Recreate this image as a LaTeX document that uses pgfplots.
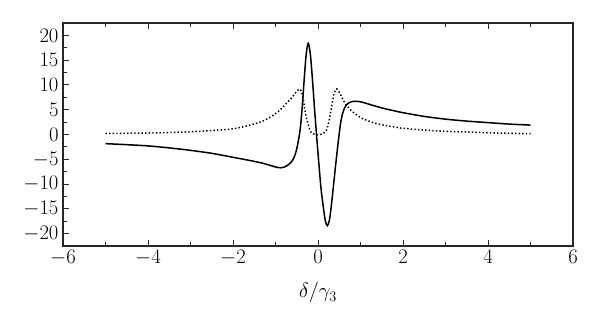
\documentclass[border=0pt]{standalone}
\usepackage{pgfplots}
\pgfplotsset{compat=1.18}
\begin{document}
\begin{tikzpicture}[x=1bp,y=1bp]
\begin{axis}[
  name=ax,
  scale only axis,
  width=510bp, height=223bp,
  xmin=-6, xmax=6, ymin=-22.5, ymax=22.5,
  xtick={-6,-4,...,6}, ytick={-20,-15,...,20},
  minor x tick num=1, minor y tick num=1,
  xtick pos=both, ytick pos=left,
  xticklabel pos=lower,
  tick align=inside,
  major tick length=6bp, minor tick length=4bp,
  axis line style={line width=1.2bp, black!85},
  every tick/.style={line width=0.9bp, black!85},
  tick label style={font=\fontsize{20.5}{22}\selectfont},
  label style={font=\fontsize{20.5}{22}\selectfont},
  xlabel={$\delta/\gamma_3$},
  xlabel style={yshift=-10bp},
  xticklabel style={yshift=-1bp},
  yticklabel style={xshift=-1bp},
]
\addplot[black, line width=1.5bp, smooth, tension=0.5] coordinates {
(-5,-1.85) (-4.5,-2.05) (-4,-2.3) (-3.5,-2.7) (-3,-3.2) (-2.5,-3.8) (-2,-4.6)
(-1.6,-5.25) (-1.3,-5.8) (-1.1,-6.3) (-0.97,-6.62) (-0.88,-6.72) (-0.8,-6.6)
(-0.72,-6.25) (-0.65,-5.75) (-0.59,-5.05) (-0.54,-4.1) (-0.5,-2.9) (-0.46,-1.2)
(-0.42,1.0) (-0.38,4.6) (-0.33,10.5) (-0.28,16.0) (-0.23,18.4) (-0.18,16.2)
(-0.13,11) (-0.08,5) (-0.03,-0.6) (0.02,-5.8) (0.07,-10.8) (0.12,-14.3)
(0.17,-17.3) (0.22,-18.4) (0.27,-17.2) (0.32,-13.9) (0.38,-9.0) (0.43,-5.0)
(0.48,-1.2) (0.53,2.2) (0.58,4.3) (0.64,5.6) (0.72,6.35) (0.82,6.68) (0.92,6.7)
(1.05,6.5) (1.34,5.75) (1.6,5.15) (1.81,4.75) (2,4.4) (2.5,3.65) (3,3.1) (3.5,2.7)
(4,2.4) (4.5,2.1) (5,1.9)
};
\addplot[black, line width=1.5bp, dash pattern=on 1.4bp off 2.2bp, smooth, tension=0.5] coordinates {
(-5,0.2) (-4.5,0.25) (-4,0.3) (-3.5,0.4) (-3,0.55) (-2.5,0.8) (-2,1.15)
(-1.6,1.9) (-1.3,2.7) (-1.05,3.9) (-0.9,4.9) (-0.74,6.3) (-0.6,7.6)
(-0.5,8.7) (-0.42,9.15) (-0.36,7.8) (-0.31,5.0) (-0.25,2.6) (-0.19,0.9)
(-0.13,0.15) (-0.05,0.0) (0.05,0.0) (0.12,0.2) (0.2,0.9) (0.26,2.8)
(0.32,5.6) (0.38,8.3) (0.44,9.2) (0.52,8.2) (0.635,6.3) (0.75,5.1)
(0.87,4.2) (1.05,3.2) (1.34,2.3) (1.6,1.8) (1.81,1.5) (2,1.25) (2.5,0.9)
(3,0.65) (3.5,0.5) (4,0.35) (4.5,0.25) (5,0.15)
};
\end{axis}
\pgfresetboundingbox
\path[use as bounding box] ([xshift=-63bp,yshift=-82bp]ax.south west) rectangle ([xshift=27bp,yshift=23bp]ax.north east);
\end{tikzpicture}
\end{document}
